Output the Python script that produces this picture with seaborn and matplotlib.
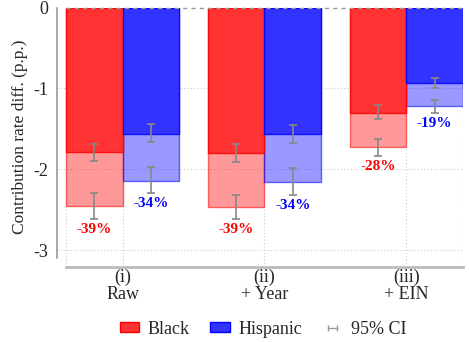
import pandas as pd
import matplotlib.pyplot as plt
import seaborn as sns
from matplotlib.patches import Patch
from matplotlib.lines import Line2D
from matplotlib.colors import to_rgb

# Values (p.p.)
specs = ["(i)\nRaw", "(ii)\n+ Year", "(iii)\n+ EIN"]
groups = ["Black", "Hispanic"]

black_dark = [-1.79, -1.80, -1.30]
black_dark_lo = [-1.90, -1.91, -1.38]
black_dark_hi = [-1.69, -1.69, -1.21]
black_total = [-2.45, -2.47, -1.73]
black_total_lo = [-2.62, -2.62, -1.84]
black_total_hi = [-2.30, -2.32, -1.63]

hisp_dark = [-1.56, -1.57, -0.93]
hisp_dark_lo = [-1.66, -1.68, -0.995]
hisp_dark_hi = [-1.44, -1.45, -0.87]
hisp_total = [-2.14, -2.16, -1.22]
hisp_total_lo = [-2.30, -2.32, -1.31]
hisp_total_hi = [-1.97, -1.99, -1.14]

pct_black = ["-39%", "-39%", "-28%"]
pct_hisp = ["-34%", "-34%", "-19%"]

colors = {"Black": "#ff0000", "Hispanic": "#0000ff"}

df = pd.DataFrame({
    "spec": specs * 2,
    "group": ["Black"] * 3 + ["Hispanic"] * 3,
    "dark": black_dark + hisp_dark,
    "total": black_total + hisp_total,
})

sns.set_style("white")
plt.rcParams["font.family"] = "serif"
plt.rcParams["font.serif"] = ["Liberation Serif", "DejaVu Serif"]
plt.rcParams["axes.unicode_minus"] = False
FONT = "Liberation Serif"

fig = plt.figure(figsize=(4.69, 3.42), dpi=100)
ax = fig.add_axes([57 / 469, 1 - 267 / 342, (463 - 57) / 469, (267 - 7.5) / 342])

# light (total) bars, then the solid part on top
sns.barplot(data=df, x="spec", y="total", hue="group", palette=colors,
            saturation=1, width=0.8, legend=False, ax=ax, zorder=2)
for cont, g in zip(ax.containers, groups):
    r, gg, b = to_rgb(colors[g])
    for p in cont:
        p.set_facecolor((r, gg, b, 0.4))
        p.set_edgecolor((r, gg, b, 0.55))
        p.set_linewidth(1)
n_light = len(ax.containers)

sns.barplot(data=df, x="spec", y="dark", hue="group", palette=colors,
            saturation=1, width=0.8, legend=False, ax=ax, zorder=3)
for cont, g in zip(ax.containers[n_light:], groups):
    r, gg, b = to_rgb(colors[g])
    for p in cont:
        p.set_facecolor((r + (1 - r) * 0.2, gg + (1 - gg) * 0.2, b + (1 - b) * 0.2))
        p.set_edgecolor((r, gg, b, 0.85))
        p.set_linewidth(1)

ci = {
    "Black": (black_dark, black_dark_lo, black_dark_hi,
              black_total, black_total_lo, black_total_hi, pct_black),
    "Hispanic": (hisp_dark, hisp_dark_lo, hisp_dark_hi,
                 hisp_total, hisp_total_lo, hisp_total_hi, pct_hisp),
}
for cont, g in zip(ax.containers[:n_light], groups):
    d, dlo, dhi, t, tlo, thi, pct = ci[g]
    xs = [p.get_x() + p.get_width() / 2 for p in cont]
    for yv, lo, hi in [(d, dlo, dhi), (t, tlo, thi)]:
        yerr = [[v - l for v, l in zip(yv, lo)], [h - v for v, h in zip(yv, hi)]]
        ax.errorbar(xs, yv, yerr=yerr, fmt="none", ecolor="#888888",
                    elinewidth=1.2, capsize=3, capthick=1.2, zorder=5)
    for x, lo, s in zip(xs, tlo, pct):
        ax.annotate(s, (x, lo), xytext=(0, -7.4), textcoords="offset points",
                    ha="center", va="center", fontsize=11, fontweight="bold",
                    color=colors[g], family=FONT)

ax.set_xlim(-0.4 - 9 / 142, 2.4)
ax.set_ylim(-3.21, 0)
ax.set_yticks([0, -1, -2, -3])
ax.set_yticklabels(["0", "-1", "-2", "-3"], family=FONT)
ax.set_xticks(range(len(specs)))
ax.set_xticklabels(specs, family=FONT, linespacing=0.95)
ax.set_xlabel("")
ax.set_ylabel("Contribution rate diff. (p.p.)", fontsize=12.5, labelpad=4, family=FONT)

grid_kw = dict(color="#cccccc", lw=0.8, ls=(0, (1, 2)), zorder=0)
for yv in [-1, -2, -3]:
    ax.axhline(yv, **grid_kw)
for xv in [-0.4, 0, 1, 2, 2.4]:
    ax.axvline(xv, **grid_kw)
ax.hlines(0, -0.4, 2.4, colors="#999999", lw=1, ls=(0, (3, 3)), zorder=6, clip_on=False)

for s in ["top", "right"]:
    ax.spines[s].set_visible(False)
ax.spines["left"].set_bounds(-3.1, 0)
ax.spines["left"].set_color("#999999")
ax.spines["left"].set_linewidth(1.2)
ax.spines["bottom"].set_bounds(-0.4, 2.4)
ax.spines["bottom"].set_color("#bbbbbb")
ax.spines["bottom"].set_linewidth(2)
ax.tick_params(axis="y", length=4, width=1, color="#999999", labelsize=13, pad=2)
ax.tick_params(axis="x", length=0, labelsize=13, pad=1.5)

handles = [
    Patch(facecolor="#ff3333", edgecolor="#ff0000", lw=1),
    Patch(facecolor="#3333ff", edgecolor="#0000ff", lw=1),
    Line2D([], [], color="#999999", lw=1, marker="|", markersize=5),
]
fig.legend(handles, ["Black", "Hispanic", "95% CI"], loc="center",
           bbox_to_anchor=(263 / 469, 1 - 329 / 342), ncol=3, frameon=False,
           prop={"family": FONT, "size": 13}, handlelength=1.1,
           handleheight=0.5, handletextpad=0.45, columnspacing=1.15, numpoints=2)

fig.savefig("out.png", dpi=100)
